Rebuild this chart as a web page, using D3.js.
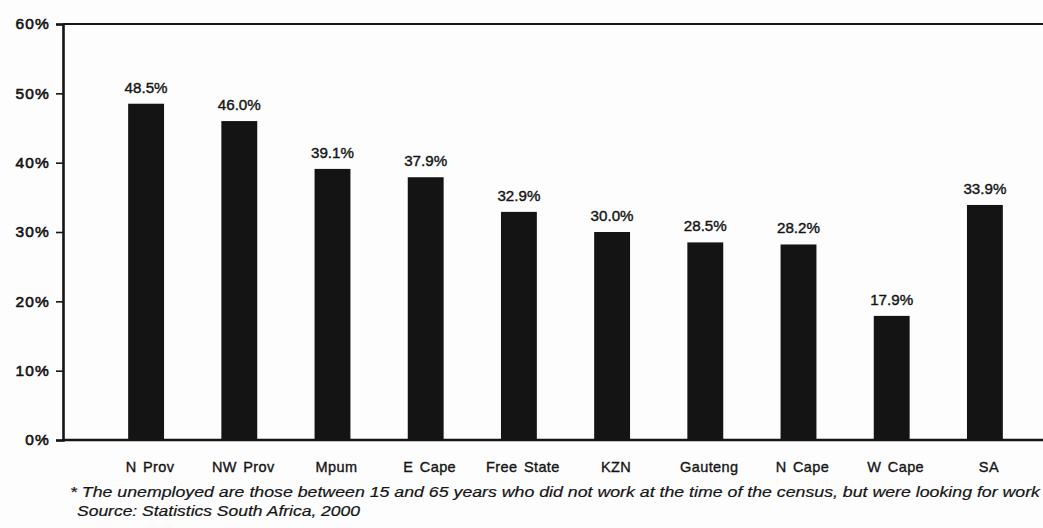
<!DOCTYPE html>
<html>
<head>
<meta charset="utf-8">
<script src="https://cdn.jsdelivr.net/npm/d3@7"></script>
<style>
  html, body { margin: 0; padding: 0; background: #fdfdfd; }
  svg { display: block; }
  .tick text, .cat, .val { font-family: "Liberation Sans", Arial, sans-serif; fill: #141414; }
  .note { font-family: "Liberation Sans", Arial, sans-serif; font-style: italic; fill: #141414; }
</style>
</head>
<body>
<svg id="chart" width="1043" height="528"></svg>
<script>
// Unemployment rate by province, census 1996
const categories = ["N Prov", "NW Prov", "Mpum", "E Cape", "Free State", "KZN", "Gauteng", "N Cape", "W Cape", "SA"];
const rates = [48.5, 46.0, 39.1, 37.9, 32.9, 30.0, 28.5, 28.2, 17.9, 33.9];
const yTicks = [0, 10, 20, 30, 40, 50, 60];
const footnote = "* The unemployed are those between 15 and 65 years who did not work at the time of the census, but were looking for work";
const source = "Source: Statistics South Africa, 2000";

const svg = d3.select("#chart");
const ink = "#141414";

const plotLeft = 63, plotRight = 1043, plotTop = 24, plotBottom = 440;

const y = d3.scaleLinear().domain([0, 60]).range([plotBottom, plotTop]);

const x = d3.scaleBand()
  .domain(categories)
  .range([99.5, 1031.5])
  .paddingInner(0.615)
  .paddingOuter(0.3075);

// Frame: top border line
svg.append("line")
  .attr("x1", plotLeft).attr("x2", plotRight)
  .attr("y1", y(60)).attr("y2", y(60))
  .attr("stroke", ink).attr("stroke-width", 2.2);

// Bars
svg.append("g").selectAll("rect")
  .data(rates)
  .join("rect")
  .attr("x", (d, i) => x(categories[i]))
  .attr("width", x.bandwidth())
  .attr("y", d => y(d))
  .attr("height", d => y(0) - y(d))
  .attr("fill", ink);

// Value labels
svg.append("g").selectAll("text")
  .data(rates)
  .join("text")
  .attr("class", "val")
  .attr("x", (d, i) => x(categories[i]) + x.bandwidth() / 2)
  .attr("y", d => y(d) - 11)
  .attr("text-anchor", "middle")
  .attr("font-size", 15)
  .attr("textLength", 43)
  .attr("lengthAdjust", "spacingAndGlyphs")
  .attr("stroke", ink).attr("stroke-width", 0.4)
  .text(d => d.toFixed(1) + "%");

// Y axis
const yAxis = d3.axisLeft(y)
  .tickValues(yTicks)
  .tickFormat(d => d + "%")
  .tickSize(7)
  .tickPadding(6);

const gy = svg.append("g")
  .attr("transform", `translate(${plotLeft},0)`)
  .call(yAxis);
gy.select(".domain").attr("stroke", ink).attr("stroke-width", 2.6);
gy.selectAll(".tick line").attr("stroke", ink).attr("stroke-width", 1.6);
gy.selectAll(".tick text")
  .attr("font-size", 15.5)
  .attr("fill", ink)
  .attr("stroke", ink).attr("stroke-width", 0.6)
  .attr("letter-spacing", 1.2);

// Baseline
svg.append("line")
  .attr("x1", plotLeft).attr("x2", plotRight)
  .attr("y1", y(0)).attr("y2", y(0))
  .attr("stroke", ink).attr("stroke-width", 2.4);

// Category labels
svg.append("g").selectAll("text")
  .data(categories)
  .join("text")
  .attr("class", "cat")
  .attr("x", d => x(d) + x.bandwidth() / 2 + 4)
  .attr("y", 472)
  .attr("text-anchor", "middle")
  .attr("font-size", 14.5)
  .attr("letter-spacing", 0.4)
  .attr("word-spacing", 2)
  .attr("stroke", ink).attr("stroke-width", 0.35)
  .text(d => d);

// Notes
svg.append("text")
  .attr("class", "note")
  .attr("x", 70).attr("y", 497)
  .attr("font-size", 15)
  .attr("textLength", 970)
  .attr("lengthAdjust", "spacingAndGlyphs")
  .attr("stroke", ink).attr("stroke-width", 0.2)
  .text(footnote);

svg.append("text")
  .attr("class", "note")
  .attr("x", 77).attr("y", 516)
  .attr("font-size", 15)
  .attr("textLength", 283)
  .attr("lengthAdjust", "spacingAndGlyphs")
  .attr("stroke", ink).attr("stroke-width", 0.2)
  .text(source);
</script>
</body>
</html>
